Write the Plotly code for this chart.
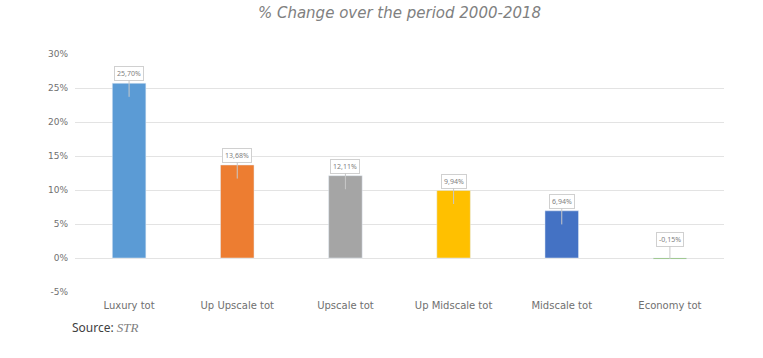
import plotly.graph_objects as go

categories = ["Luxury tot", "Up Upscale tot", "Upscale tot", "Up Midscale tot", "Midscale tot", "Economy tot"]
values = [25.70, 13.68, 12.11, 9.94, 6.94, -0.15]
value_labels = ["25,70%", "13,68%", "12,11%", "9,94%", "6,94%", "-0,15%"]
colors = ["#5B9BD5", "#ED7D31", "#A5A5A5", "#FFC000", "#4472C4", "#70AD47"]
tick_vals = [-5, 0, 5, 10, 15, 20, 25, 30]
tick_text = ["-5%", "0%", "5%", "10%", "15%", "20%", "25%", "30%"]

fig = go.Figure()
fig.add_trace(go.Bar(
    x=categories, y=values, marker_color=colors, width=0.31,
    hoverinfo="skip",
))

for c, v, t in zip(categories, values, value_labels):
    fig.add_annotation(
        x=c, y=v - 2 if v > 1 else v, xref="x", yref="y",
        text=t, showarrow=True, arrowhead=0, arrowwidth=1, arrowcolor="#c8c8c8",
        ax=0, ay=-23 if v > 1 else -20, font=dict(size=7, color="#7f7f7f", family="Noto Sans"),
        bgcolor="white", bordercolor="#d0d0d0", borderwidth=1, borderpad=2,
    )

fig.add_annotation(
    xref="paper", yref="paper", x=-0.008, y=-0.151, xanchor="left", yanchor="middle",
    text="Source: <span style='font-family:Liberation Serif;color:#7f7f7f;font-size:13px'><i>STR</i></span>",
    showarrow=False, font=dict(size=12, color="#404040", family="Noto Sans"),
)

fig.update_layout(
    width=763, height=358,
    margin=dict(l=75, r=39, t=54, b=66),
    paper_bgcolor="white", plot_bgcolor="white",
    showlegend=False,
    title=dict(text="<i>% Change over the period 2000-2018</i>", x=0.5, xanchor="center",
               xref="paper", y=1 - 13 / 358, yanchor="middle",
               font=dict(size=15, color="#808080", family="DejaVu Sans")),
    xaxis=dict(showgrid=False, showline=False, ticks="", ticklabelstandoff=6,
               tickfont=dict(size=10, color="#707070", family="DejaVu Sans")),
    yaxis=dict(range=[-5, 30], tickvals=tick_vals, ticktext=tick_text,
               showgrid=True, gridcolor="#e3e3e3", gridwidth=1,
               zeroline=False, showline=False, ticks="", ticklabelstandoff=6,
               tickfont=dict(size=9, color="#707070", family="DejaVu Sans")),
)

fig.write_html("out.html", config={"displayModeBar": False},
               post_script="document.body.style.margin='0';")
